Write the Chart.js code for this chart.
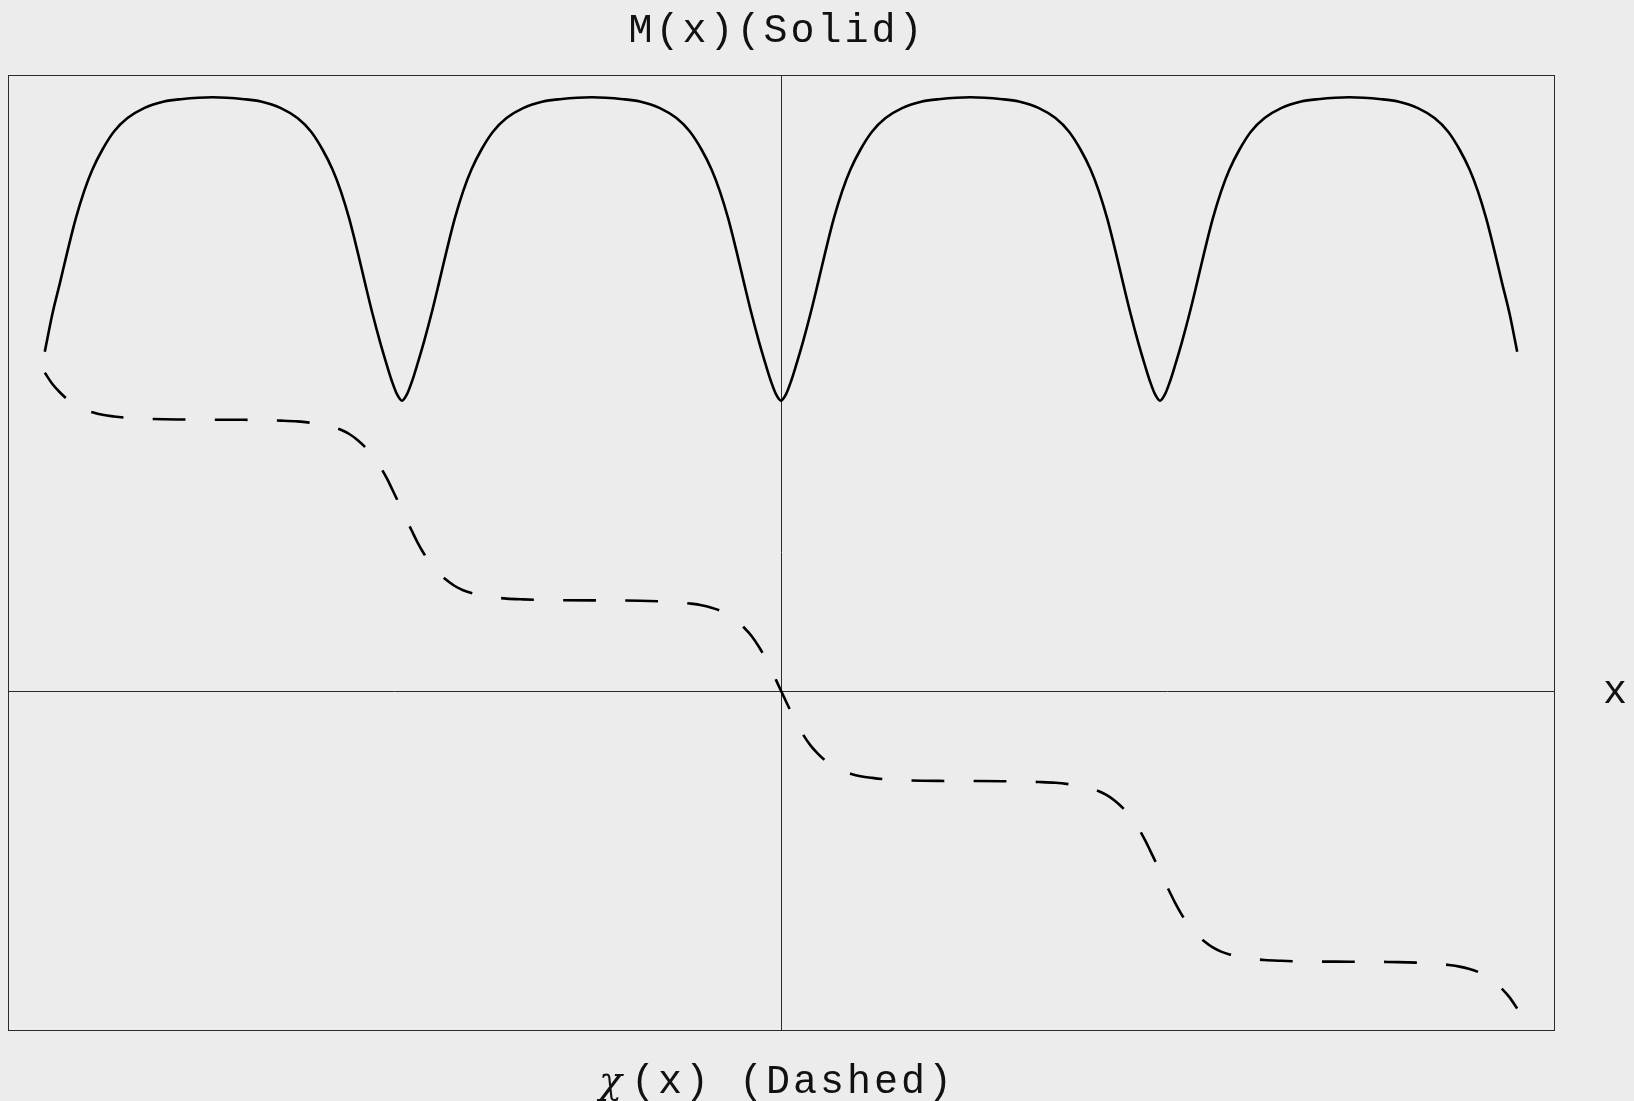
<!DOCTYPE html>
<html>
<head>
<meta charset="utf-8">
<title>M(x) (Solid) / χ(x) (Dashed)</title>
<script src="https://cdn.jsdelivr.net/npm/chart.js@4.4.1/dist/chart.umd.min.js"></script>
<style>
    html, body {
        margin: 0;
        padding: 0;
        background: #ececec;
    }
    canvas {
        display: block;
    }
</style>
</head>
<body>
<canvas id="profileChart" width="1634" height="1101"></canvas>
<script>
// Sample positions along x (dips at 0 and +-3.089)
const xValues = [
    -6.000, -5.938, -5.876, -5.815, -5.748, -5.680, -5.612, -5.530, -5.436, -5.326, -5.191, -5.028, -4.892, -4.633,
    -4.375, -4.239, -4.076, -3.941, -3.831, -3.737, -3.655, -3.587, -3.519, -3.452, -3.391, -3.329, -3.268, -3.211, -3.171, -3.130, -3.089,
    -3.048, -3.007, -2.967, -2.910, -2.849, -2.787, -2.726, -2.659, -2.591, -2.523, -2.441, -2.346, -2.237, -2.102, -1.939, -1.803, -1.544,
    -1.286, -1.150, -0.987, -0.852, -0.743, -0.648, -0.566, -0.498, -0.430, -0.363, -0.302, -0.240, -0.179, -0.122, -0.082, -0.041, 0,
    0.041, 0.082, 0.122, 0.179, 0.240, 0.302, 0.363, 0.430, 0.498, 0.566, 0.648, 0.743, 0.852, 0.987, 1.150, 1.286,
    1.544, 1.803, 1.939, 2.102, 2.237, 2.346, 2.441, 2.523, 2.591, 2.659, 2.726, 2.787, 2.849, 2.910, 2.967, 3.007, 3.048,
    3.089, 3.130, 3.171, 3.211, 3.268, 3.329, 3.391, 3.452, 3.519, 3.587, 3.655, 3.737, 3.831, 3.941, 4.076, 4.239, 4.375,
    4.633, 4.892, 5.028, 5.191, 5.326, 5.436, 5.530, 5.612, 5.680, 5.748, 5.815, 5.876, 5.938, 6.000
];

// M(x), solid curve
const mValues = [
    3.390, 3.769, 4.081, 4.396, 4.720, 4.994, 5.212, 5.412, 5.592, 5.726, 5.826, 5.892, 5.915, 5.934,
    5.915, 5.892, 5.826, 5.726, 5.592, 5.412, 5.212, 4.994, 4.720, 4.396, 4.081, 3.769, 3.488, 3.250, 3.095, 2.965, 2.900,
    2.965, 3.095, 3.250, 3.488, 3.769, 4.081, 4.396, 4.720, 4.994, 5.212, 5.412, 5.592, 5.726, 5.826, 5.892, 5.915, 5.934,
    5.915, 5.892, 5.826, 5.726, 5.592, 5.412, 5.212, 4.994, 4.720, 4.396, 4.081, 3.769, 3.488, 3.250, 3.095, 2.965, 2.900,
    2.965, 3.095, 3.250, 3.488, 3.769, 4.081, 4.396, 4.720, 4.994, 5.212, 5.412, 5.592, 5.726, 5.826, 5.892, 5.915,
    5.934, 5.915, 5.892, 5.826, 5.726, 5.592, 5.412, 5.212, 4.994, 4.720, 4.396, 4.081, 3.769, 3.488, 3.250, 3.095, 2.965,
    2.900, 2.965, 3.095, 3.250, 3.488, 3.769, 4.081, 4.396, 4.720, 4.994, 5.212, 5.412, 5.592, 5.726, 5.826, 5.892, 5.915,
    5.934, 5.915, 5.892, 5.826, 5.726, 5.592, 5.412, 5.212, 4.994, 4.720, 4.396, 4.081, 3.769, 3.390
];

// chi(x), dashed staircase
const chiValues = [
    3.179, 3.067, 2.982, 2.913, 2.854, 2.812, 2.784, 2.759, 2.742, 2.728, 2.720, 2.714, 2.712, 2.710,
    2.709, 2.707, 2.701, 2.693, 2.679, 2.662, 2.637, 2.609, 2.567, 2.508, 2.439, 2.354, 2.244, 2.120, 2.020, 1.915, 1.807,
    1.699, 1.594, 1.494, 1.370, 1.260, 1.175, 1.106, 1.047, 1.005, 0.977, 0.952, 0.935, 0.921, 0.913, 0.907, 0.905, 0.903,
    0.902, 0.900, 0.894, 0.886, 0.872, 0.855, 0.830, 0.802, 0.760, 0.701, 0.632, 0.547, 0.437, 0.313, 0.213, 0.108, 0,
    -0.108, -0.213, -0.313, -0.437, -0.547, -0.632, -0.701, -0.760, -0.802, -0.830, -0.855, -0.872, -0.886, -0.894, -0.900, -0.902,
    -0.903, -0.905, -0.907, -0.913, -0.921, -0.935, -0.952, -0.977, -1.005, -1.047, -1.106, -1.175, -1.260, -1.370, -1.494, -1.594, -1.699,
    -1.807, -1.915, -2.020, -2.120, -2.244, -2.354, -2.439, -2.508, -2.567, -2.609, -2.637, -2.662, -2.679, -2.693, -2.701, -2.707, -2.709,
    -2.710, -2.712, -2.714, -2.720, -2.728, -2.742, -2.759, -2.784, -2.812, -2.854, -2.913, -2.982, -3.067, -3.179
];

const xRange = [-6.3, 6.3];
const yRange = [-3.393, 6.157];

const titleText = 'M(x)(Solid)';
const chiSymbol = 'χ';
const bottomText = '(x) (Dashed)';
const axisLabel = 'x';

const MONO = '40px "Liberation Mono", "DejaVu Sans Mono", monospace';

function toPoints(ys) {
    return xValues.map((x, i) => ({ x: x, y: ys[i] }));
}

// frame, axes through the origin and the labels
const framePlugin = {
    id: 'frame',
    beforeDatasetsDraw(chart) {
        const { ctx, chartArea, scales } = chart;
        const x0 = Math.round(scales.x.getPixelForValue(0)) + 0.5;
        const y0 = Math.round(scales.y.getPixelForValue(0)) + 0.5;

        ctx.save();
        ctx.strokeStyle = '#2b2b2b';
        ctx.lineWidth = 1;
        ctx.strokeRect(chartArea.left + 0.5, chartArea.top + 0.5, chartArea.width, chartArea.height);

        ctx.beginPath();
        ctx.moveTo(x0, chartArea.top);
        ctx.lineTo(x0, chartArea.bottom);
        ctx.moveTo(chartArea.left, y0);
        ctx.lineTo(chartArea.right, y0);
        ctx.stroke();
        ctx.restore();
    },
    afterDraw(chart) {
        const { ctx, chartArea, scales } = chart;
        const cx = (chartArea.left + chartArea.right) / 2 - 4;

        ctx.save();
        ctx.fillStyle = '#111';
        ctx.textBaseline = 'alphabetic';
        ctx.font = MONO;
        ctx.letterSpacing = '3px';

        ctx.textAlign = 'center';
        ctx.fillText(titleText, cx, 42);

        // bottom label: italic chi followed by mono text
        ctx.textAlign = 'left';
        const restWidth = ctx.measureText(bottomText).width;
        ctx.font = 'italic 38px "DejaVu Serif", "Liberation Serif", serif';
        const chiWidth = ctx.measureText(chiSymbol).width;
        const startX = cx - (restWidth + chiWidth + 6) / 2;
        ctx.fillText(chiSymbol, startX, 1093);
        ctx.font = MONO;
        ctx.fillText(bottomText, startX + chiWidth + 6, 1093);

        // axis label at the end of the horizontal axis
        const y0 = scales.y.getPixelForValue(0);
        ctx.fillText(axisLabel, chartArea.right + 49, y0 + 12);
        ctx.restore();
    }
};

function createProfileChart() {
    const canvas = document.getElementById('profileChart');
    if (!canvas) return;

    const ctx = canvas.getContext('2d');

    new Chart(ctx, {
        type: 'line',
        data: {
            datasets: [
                {
                    label: 'M(x)',
                    data: toPoints(mValues),
                    borderColor: '#000',
                    borderWidth: 2.6,
                    fill: false,
                    pointRadius: 0,
                    cubicInterpolationMode: 'monotone'
                },
                {
                    label: 'χ(x)',
                    data: toPoints(chiValues),
                    borderColor: '#000',
                    borderWidth: 2.6,
                    borderDash: [32.8, 29.3],
                    borderCapStyle: 'butt',
                    fill: false,
                    pointRadius: 0,
                    cubicInterpolationMode: 'monotone'
                }
            ]
        },
        options: {
            responsive: false,
            animation: false,
            events: [],
            layout: {
                padding: { left: 8, top: 75, right: 80, bottom: 71 }
            },
            plugins: {
                legend: { display: false },
                title: { display: false },
                tooltip: { enabled: false }
            },
            scales: {
                x: {
                    type: 'linear',
                    min: xRange[0],
                    max: xRange[1],
                    display: false
                },
                y: {
                    type: 'linear',
                    min: yRange[0],
                    max: yRange[1],
                    display: false
                }
            }
        },
        plugins: [framePlugin]
    });
}

document.addEventListener('DOMContentLoaded', () => {
    createProfileChart();
});
</script>
</body>
</html>
